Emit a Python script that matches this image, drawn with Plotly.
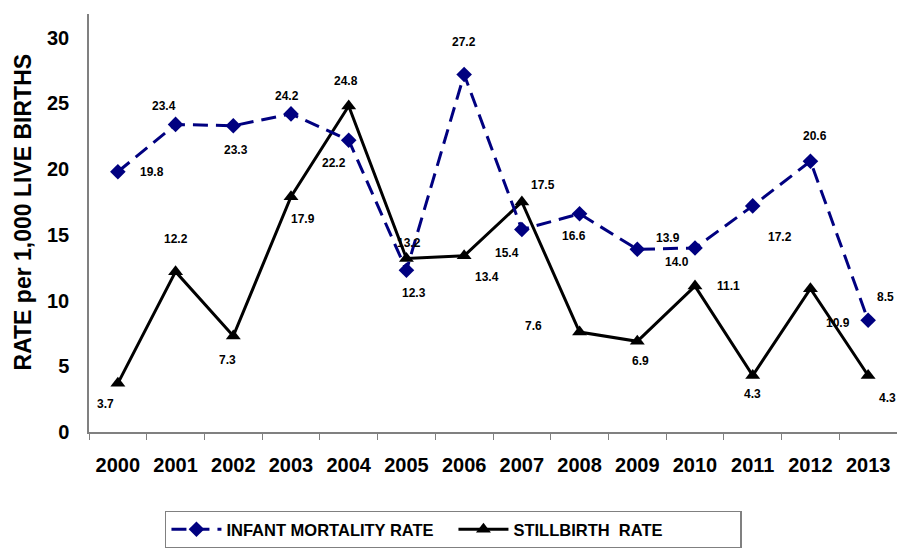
import plotly.graph_objects as go

years = ["2000", "2001", "2002", "2003", "2004", "2005", "2006",
         "2007", "2008", "2009", "2010", "2011", "2012", "2013"]
infant_mortality = [19.8, 23.4, 23.3, 24.2, 22.2, 12.3, 27.2,
                    15.4, 16.6, 13.9, 14.0, 17.2, 20.6, 8.5]
stillbirth = [3.7, 12.2, 7.3, 17.9, 24.8, 13.2, 13.4,
              17.5, 7.6, 6.9, 11.1, 4.3, 10.9, 4.3]

# label offsets in pixels (dx, dy with dy positive = down), picked by eye
imr_offsets = [(34, 0), (-12, -18), (3, 24), (-4, -18), (-15, 23), (8, 23), (0, -32),
               (-15, 23), (-6, 22), (31, -11), (-18, 14), (27, 31), (5, -25), (17, -23)]
sb_offsets = [(-12, 21), (0, -33), (-6, 24), (12, 22), (-3, -25), (3, -15), (23, 21),
              (21, -17), (-46, -6), (3, 20), (33, 0), (0, 19), (28, 34), (19, 23)]

FONT = "Liberation Sans, Arial, sans-serif"

fig = go.Figure()

fig.add_trace(go.Scatter(
    x=years, y=stillbirth,
    mode="lines+markers",
    name="STILLBIRTH  RATE",
    line=dict(color="black", width=3),
    marker=dict(symbol="triangle-up", size=13, color="black"),
))

fig.add_trace(go.Scatter(
    x=years, y=infant_mortality,
    mode="lines+markers",
    name="INFANT MORTALITY RATE",
    line=dict(color="#000080", width=3, dash="15px,8px"),
    marker=dict(symbol="diamond", size=12, color="#000080"),
))

# data labels (x given as category index)
for series, offsets in ((infant_mortality, imr_offsets), (stillbirth, sb_offsets)):
    for i, (val, (dx, dy)) in enumerate(zip(series, offsets)):
        fig.add_annotation(x=i, y=val, text=f"{val:.1f}", showarrow=False,
                           xshift=dx, yshift=-dy,
                           font=dict(family=FONT, size=12, color="black", weight="bold"))

# y axis title as annotation so it can sit a bit above centre like the original
fig.add_annotation(text="RATE per 1,000 LIVE BIRTHS", textangle=-90,
                   xref="paper", yref="paper", x=-0.082, y=0.527,
                   xanchor="center", yanchor="middle",
                   showarrow=False,
                   font=dict(family=FONT, size=23, color="black", weight="bold"))

fig.update_xaxes(
    type="category",
    range=[-0.5, len(years) - 0.5],
    showline=True, linecolor="#808080", linewidth=1.5,
    ticks="outside", tickson="boundaries", ticklen=6, tickcolor="#808080",
    tickfont=dict(family=FONT, size=20, color="black", weight="bold"),
    ticklabelstandoff=14,
    tickangle=0,
    showgrid=False,
    automargin=False,
)
fig.update_yaxes(
    range=[0, 31.8],
    tickvals=[0, 5, 10, 15, 20, 25, 30],
    showline=True, linecolor="#808080", linewidth=1.5,
    showgrid=False, zeroline=False,
    tickfont=dict(family=FONT, size=20, color="black", weight="bold"),
    ticklabelstandoff=14,
    automargin=False,
)

# page body has an 8px default margin, so the figure is shrunk to compensate
fig.update_layout(
    width=897, height=540,
    margin=dict(l=81, r=8, t=6, b=116, autoexpand=False),
    plot_bgcolor="white", paper_bgcolor="white",
    legend=dict(
        orientation="h", x=0.094, xanchor="left", y=-0.188, yanchor="top",
        traceorder="reversed",
        bordercolor="#808080", borderwidth=1.5,
        font=dict(family=FONT, size=16.5, color="black", weight="bold"),
        itemwidth=50,
        entrywidth=222,
    ),
)

fig.write_html("out.html")
